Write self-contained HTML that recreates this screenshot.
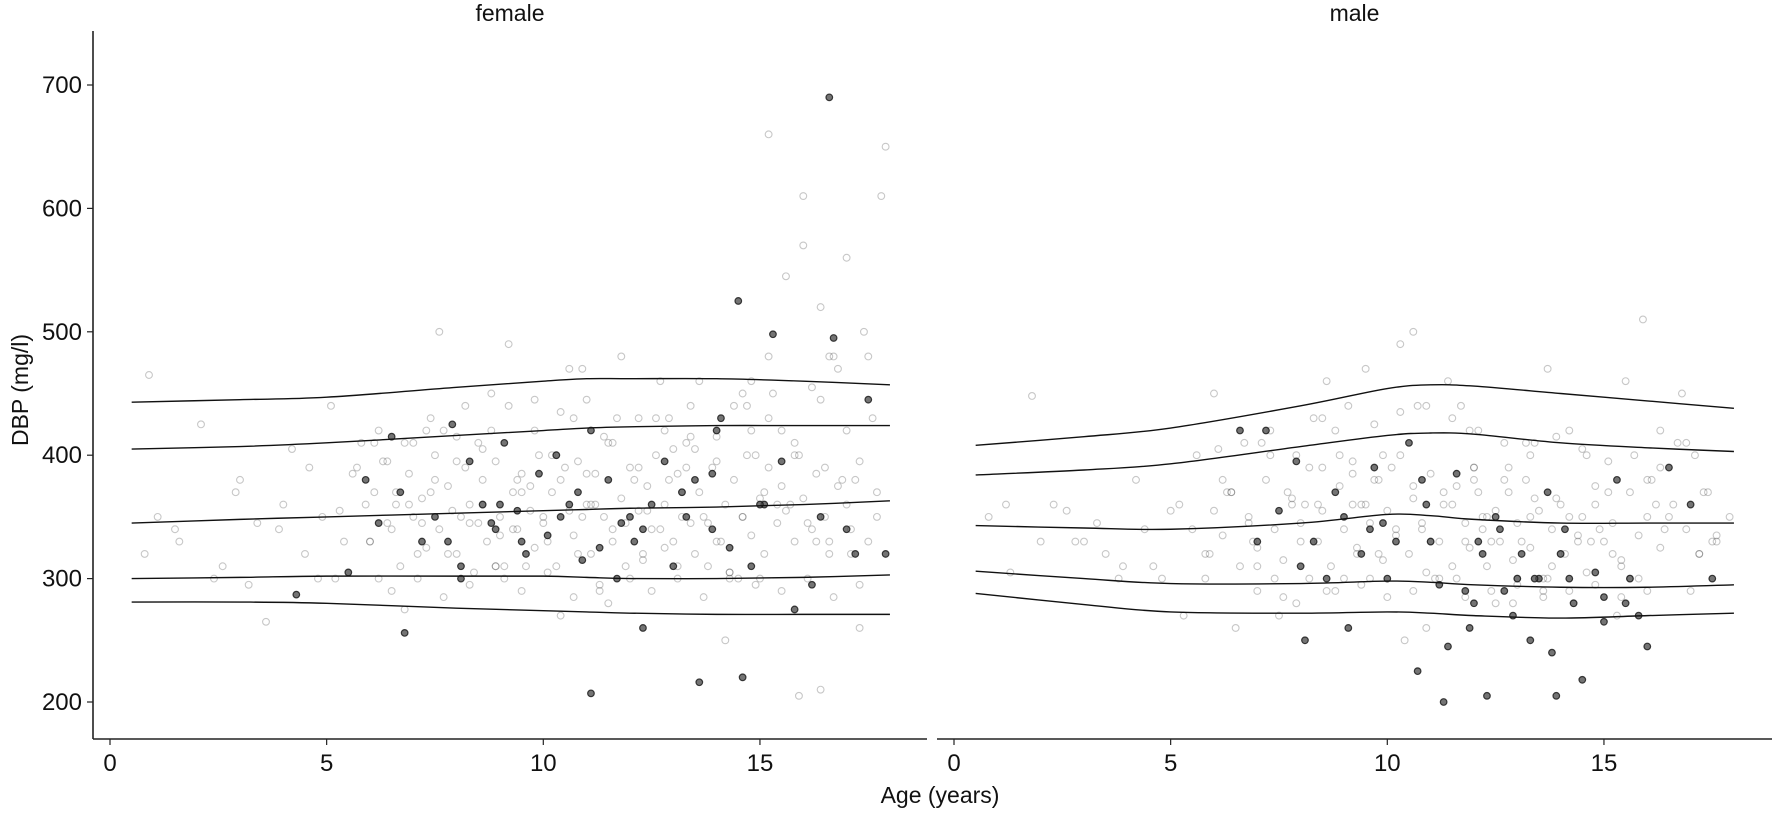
<!DOCTYPE html>
<html><head><meta charset="utf-8"><style>
body{margin:0;background:#fff;}
svg text{font-family:"Liberation Sans",sans-serif;}
</style></head><body>
<svg id="chart" width="1772" height="810" viewBox="0 0 1772 810" xmlns="http://www.w3.org/2000/svg">
<g id="axes"></g>
<g id="marks"></g>
</svg>
<script>
const yTicks=[200,300,400,500,600,700];
const xTicks=[0,5,10,15];
const curveAges=[0.5,3,5,8,10,11,12,14,16,18];
const femaleC97=[443,445,447,455,460,462,462,462,460,457];
const femaleC90=[405,407,410,416,420,422,423,424,424,424];
const femaleC50=[345,348,350,353,355,356,357,358,360,363];
const femaleC10=[300,301,302,302,302,301,300,300,301,303];
const femaleC3=[281,281,280,276,274,273,272,271,271,271];
const maleC97=[408,415,422,440,454,457,456,450,444,438];
const maleC90=[384,388,393,407,416,418,417,410,406,403];
const maleC50=[343,341,340,345,352,351,348,345,345,345];
const maleC10=[306,300,296,296,298,297,295,293,293,295];
const maleC3=[288,279,273,272,273,272,270,268,270,272];
const femaleLightAge=[0.9,1.1,1.6,2.1,2.6,2.9,3.2,3.6,3.9,4.2,4.5,4.8,5.1,5.3,5.6,5.8,6.0,6.2,6.4,6.6,6.8,7.0,7.2,7.4,7.6,7.8,8.0,8.2,8.4,8.6,8.8,9.0,9.2,9.4,9.6,9.8,10.0,10.2,10.4,10.6,10.8,11.0,11.2,11.4,11.6,11.8,12.0,12.2,12.4,12.6,12.8,13.0,13.2,13.4,13.6,13.8,14.0,14.2,14.4,14.6,14.8,15.0,15.2,15.4,15.6,15.8,16.0,16.2,16.4,16.6,16.8,17.0,17.2,17.4,17.6,17.8,6.1,6.5,7.1,7.5,8.1,8.5,9.1,9.5,10.1,10.5,11.1,11.5,12.1,12.5,13.1,13.5,14.1,14.5,15.1,15.5,16.1,16.5,17.1,17.5,5.7,6.9,7.7,8.3,8.9,9.7,10.3,10.9,11.7,12.3,12.9,13.7,14.3,14.9,15.7,16.3,16.9,17.7,7.3,9.3,11.3,13.3,15.3,10.7,12.7,14.7,16.7,15.9,16.4,17.3,17.9,15.2,16.0];
const femaleLightVal=[465,350,330,425,310,370,295,265,340,405,320,300,440,355,385,410,330,300,395,360,275,410,345,370,500,320,395,440,305,360,420,335,490,380,310,445,350,400,270,470,320,385,360,415,340,480,300,390,355,430,325,405,370,345,460,310,395,250,440,350,420,300,480,360,545,400,610,455,520,330,470,560,380,500,430,610,370,340,320,380,350,410,300,370,330,390,360,280,380,340,310,405,330,300,370,420,345,390,320,480,390,360,420,345,310,375,400,350,430,320,380,350,300,400,360,330,380,350,420,340,290,410,450,430,460,440,480,205,210,260,650,660,570,520,640,590,550];
const femaleExtraAge=[5.9,6.0,6.3,6.4,6.6,6.7,6.9,7.0,7.2,7.3,7.5,7.6,7.8,7.9,8.0,8.2,8.3,8.5,8.6,8.7,8.9,9.0,9.1,9.3,9.4,9.5,9.7,9.8,9.9,10.0,10.2,10.3,10.4,10.6,10.7,10.8,11.0,11.1,11.2,11.4,11.5,11.6,11.8,11.9,12.0,12.2,12.3,12.4,12.6,12.7,12.8,13.0,13.1,13.2,13.4,13.5,13.6,13.8,13.9,14.0,14.2,14.3,14.4,14.6,14.7,14.8,15.0,15.1,15.2,15.4,15.5,15.6,15.8,15.9,16.0,16.2,16.3,16.5,16.6,16.8,17.0,17.1,17.3,17.5,17.7,6.2,6.8,7.4,8.0,8.6,9.2,9.8,10.4,11.0,11.6,12.2,12.8,13.4,14.0,14.6,15.2,15.8,16.4,17.0,6.5,7.1,7.7,8.3,8.9,9.5,10.1,10.7,11.3,11.9,12.5,13.1,13.7,14.3,14.9,15.5,16.1,16.7,17.3,4.9,5.4,3.0,2.4,1.5,0.8,4.0,3.4,5.2,4.6,6.1,8.8,10.9,12.9,14.8,16.6,13.3];
const femaleExtraVal=[360,330,395,345,370,310,385,350,365,325,400,340,375,355,320,390,360,345,380,330,395,350,310,370,340,385,355,325,400,345,370,310,380,355,335,395,360,320,385,350,410,330,365,345,390,355,315,375,400,340,360,330,385,350,415,320,370,345,390,330,360,305,380,350,400,335,365,320,390,345,375,355,330,400,365,340,385,350,320,375,360,340,395,330,370,420,410,430,415,405,440,420,435,445,410,430,420,440,415,450,430,410,445,420,290,300,285,295,310,290,305,285,295,310,290,300,285,305,295,290,300,285,295,350,330,380,300,340,320,360,345,300,390,410,450,470,430,460,480,390];
const femaleDarkAge=[4.3,5.5,5.9,6.2,6.5,6.7,6.8,7.2,7.5,7.9,8.1,8.3,8.6,8.9,9.1,9.4,9.6,9.9,10.1,10.3,10.6,10.8,11.1,11.3,11.5,11.8,12.1,12.3,12.5,12.8,13.0,13.3,13.5,13.6,13.9,14.1,14.3,14.6,14.8,15.1,15.3,15.5,16.2,16.4,16.6,17.0,17.2,17.5,17.9,11.1,13.9,14.5,12.3,8.1,9.5,10.9,12.0,13.2,14.0,15.0,16.7,15.8,9.0,10.4,11.7,7.8,8.8];
const femaleDarkVal=[287,305,380,345,415,370,256,330,350,425,300,395,360,340,410,355,320,385,335,400,360,370,207,325,380,345,330,260,360,395,310,350,380,216,340,430,325,220,310,360,498,395,295,350,690,340,320,445,320,420,385,525,340,310,330,315,350,370,420,360,495,275,360,350,300,330,345];
const maleLightAge=[0.8,1.3,1.8,2.3,2.8,3.3,3.8,4.2,4.6,5.0,5.3,5.6,5.9,6.2,6.5,6.8,7.1,7.4,7.7,8.0,8.3,8.6,8.9,9.2,9.5,9.8,10.1,10.4,10.7,11.0,11.3,11.6,11.9,12.2,12.5,12.8,13.1,13.4,13.7,14.0,14.3,14.6,14.9,15.2,15.5,15.8,16.1,16.4,16.7,17.0,17.3,17.6,17.9,5.8,6.3,6.9,7.3,7.9,8.4,8.8,9.3,9.7,10.2,10.6,11.1,11.5,12.0,12.4,12.9,13.3,13.8,14.2,14.7,15.1,15.6,16.0,16.5,17.1,17.5,6.0,7.0,8.1,9.0,9.9,10.9,11.8,12.7,13.6,14.5,15.4,16.3,17.2,9.4,10.3,11.4,12.3,13.2,14.1,15.9,16.8,7.5,8.5,9.6,10.8,12.1,13.0,14.4,15.3,2.0,3.5];
const maleLightVal=[350,305,448,360,330,345,300,380,310,355,270,400,320,380,260,345,410,300,370,330,430,290,400,360,470,320,390,250,440,330,370,300,420,350,280,390,330,410,300,360,280,400,340,320,460,300,380,340,410,290,370,330,350,300,370,330,400,280,360,420,320,380,340,500,300,360,390,330,280,350,310,420,330,370,300,380,350,400,330,450,310,360,300,400,260,330,380,290,350,310,420,320,360,490,460,350,410,320,510,450,270,390,300,340,370,300,330,270,330,320,380];
const maleExtraAge=[5.5,5.8,6.0,6.2,6.4,6.6,6.8,7.0,7.2,7.4,7.6,7.8,8.0,8.2,8.4,8.5,8.7,8.9,9.0,9.2,9.3,9.5,9.6,9.8,9.9,10.0,10.2,10.3,10.5,10.6,10.8,10.9,11.0,11.2,11.3,11.5,11.6,11.8,11.9,12.0,12.2,12.3,12.5,12.6,12.8,12.9,13.0,13.2,13.3,13.5,13.6,13.8,13.9,14.0,14.2,14.4,14.6,14.8,15.0,15.2,15.4,15.6,15.8,16.0,16.3,16.6,16.9,17.2,17.6,6.1,6.7,7.3,7.9,8.5,9.1,9.7,10.3,10.9,11.5,12.1,12.7,13.3,13.9,14.5,15.1,15.7,16.3,16.9,7.0,7.6,8.2,8.8,9.4,10.0,10.6,11.2,11.8,12.4,13.0,13.6,14.2,14.8,15.4,16.0,6.4,7.8,9.2,10.6,12.0,13.4,14.8,16.2,17.4,4.4,4.8,5.2,3.0,3.9,1.2,2.6,8.6,11.7,13.7];
const maleExtraVal=[340,320,355,335,370,310,350,325,380,340,315,365,345,390,330,355,310,375,340,395,325,360,345,380,315,355,335,400,320,365,345,305,385,330,360,310,375,345,325,390,340,310,355,330,370,315,345,380,325,355,300,340,365,320,350,335,305,360,330,345,315,370,335,350,325,360,340,320,335,405,410,420,400,430,440,425,435,440,430,420,410,400,415,405,395,400,390,410,290,285,300,290,295,285,290,300,285,290,295,285,290,295,285,290,370,360,385,375,380,365,375,360,370,340,300,360,330,310,360,355,460,440,470];
const maleDarkAge=[7.2,7.5,7.9,8.1,8.3,8.6,8.8,9.1,9.4,9.7,9.9,10.2,10.5,10.7,10.9,11.2,11.4,11.6,11.9,12.1,12.3,12.5,12.7,12.9,13.1,13.3,13.5,13.7,13.9,14.1,14.3,14.5,14.8,15.0,15.3,15.6,15.8,16.0,16.5,17.0,17.5,8.0,9.0,10.0,11.0,12.0,13.0,14.0,15.0,11.3,12.2,13.8,14.2,9.6,10.8,11.8,12.6,13.4,15.5,6.6,7.0];
const maleDarkVal=[420,355,395,250,330,300,370,260,320,390,345,330,410,225,360,295,245,385,260,330,205,350,290,270,320,250,300,370,205,340,280,218,305,265,380,300,270,245,390,360,300,310,350,300,330,280,300,320,285,200,320,240,300,340,380,290,340,300,280,420,330];
</script>
<script>
const yPix=v=>85+(700-v)*(702-85)/500;
const pxPerYr=43.33;
const panels=[{name:'female',x0:93,x1:927,zero:110,light:[[femaleLightAge,femaleLightVal],[femaleExtraAge,femaleExtraVal]],dark:[femaleDarkAge,femaleDarkVal],curves:[femaleC97,femaleC90,femaleC50,femaleC10,femaleC3]},
{name:'male',x0:937,x1:1772,zero:954,light:[[maleLightAge,maleLightVal],[maleExtraAge,maleExtraVal]],dark:[maleDarkAge,maleDarkVal],curves:[maleC97,maleC90,maleC50,maleC10,maleC3]}];
const NS='http://www.w3.org/2000/svg';
const axes=document.getElementById('axes'),marks=document.getElementById('marks');
function mk(tag,attrs,parent){const e=document.createElementNS(NS,tag);for(const k in attrs)e.setAttribute(k,attrs[k]);parent.appendChild(e);return e;}
const yl=mk('line',{x1:93,y1:31,x2:93,y2:739,stroke:'#222','stroke-width':1.6},axes);


yTicks.forEach(t=>{const y=yPix(t);
 const tk=mk('line',{x1:87,y1:y,x2:93,y2:y,stroke:'#222','stroke-width':1.2},axes);
 
 
 const tx=mk('text',{x:82,y:y+8,'text-anchor':'end','font-size':24,fill:'#111'},axes);tx.textContent=t;
 
 
});
const yt=mk('text',{x:0,y:0,'text-anchor':'middle','font-size':23,fill:'#111',transform:'translate(28,390) rotate(-90)'},axes);
yt.textContent='DBP  (mg/l)';


const xt=mk('text',{x:940,y:803,'text-anchor':'middle','font-size':23,fill:'#111'},axes);
xt.textContent='Age (years)';


panels.forEach(p=>{
 const xPix=a=>p.zero+a*pxPerYr;
 const g=mk('g',{},marks);
 
 
 const title=mk('text',{x:(p.x0+p.x1)/2,y:21,'text-anchor':'middle','font-size':23,fill:'#111'},g);
 title.textContent=p.name;
 
 
 const xl=mk('line',{x1:p.x0,y1:739,x2:p.x1,y2:739,stroke:'#222','stroke-width':1.6},g);
 
 
 xTicks.forEach(t=>{const x=xPix(t);
  const tk=mk('line',{x1:x,y1:739,x2:x,y2:745,stroke:'#222','stroke-width':1.2},g);
  
  
  const tx=mk('text',{x:x,y:771,'text-anchor':'middle','font-size':24,fill:'#111'},g);tx.textContent=t;
  
  
 });
 p.light.forEach(([la,lv])=>{
  la.forEach((a,i)=>{const c=mk('circle',{cx:xPix(a),cy:yPix(lv[i]),r:3.4,fill:'none',stroke:'rgba(0,0,0,0.22)','stroke-width':1.1},g);
   
   });
 });
 const [da,dv]=p.dark;
 da.forEach((a,i)=>{const c=mk('circle',{cx:xPix(a),cy:yPix(dv[i]),r:3.3,fill:'rgba(70,70,70,0.75)',stroke:'rgba(20,20,20,0.8)','stroke-width':1.2},g);
  
  });
 p.curves.forEach(cv=>{
  const pts=curveAges.map((a,i)=>[xPix(a),yPix(cv[i])]);
  let d='M'+pts[0][0]+','+pts[0][1];
  for(let i=0;i<pts.length-1;i++){const p0=pts[Math.max(0,i-1)],p1=pts[i],p2=pts[i+1],p3=pts[Math.min(pts.length-1,i+2)];
   d+=' C'+(p1[0]+(p2[0]-p0[0])/6)+','+(p1[1]+(p2[1]-p0[1])/6)+' '+(p2[0]-(p3[0]-p1[0])/6)+','+(p2[1]-(p3[1]-p1[1])/6)+' '+p2[0]+','+p2[1];}
  const path=mk('path',{d:d,fill:'none',stroke:'#111','stroke-width':1.4},g);
  
  
 });
});
</script>
</body></html>
